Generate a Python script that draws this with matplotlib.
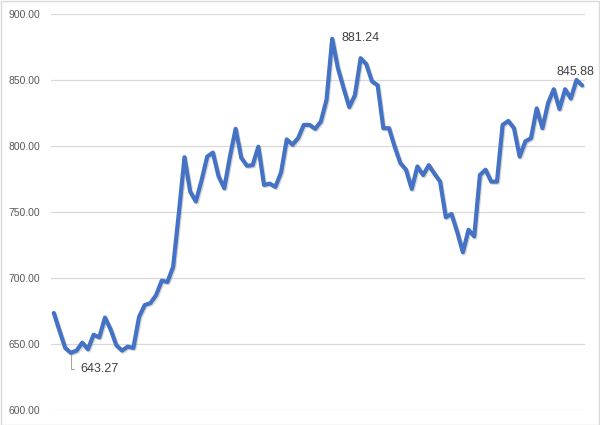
import matplotlib.pyplot as plt
import matplotlib.patheffects as pe
from matplotlib.patches import Rectangle
import numpy

# weekly closing values
values = [673.5, 660.0, 647.0, 643.27, 645.0, 651.0, 646.0, 657.0, 655.0, 670.0,
          661.0, 649.0, 645.0, 648.0, 647.0, 670.5, 679.5, 681.0, 687.0, 698.0,
          697.0, 708.5, 749.0, 791.5, 765.5, 758.0, 774.0, 792.0, 795.0, 777.0,
          768.0, 792.0, 813.0, 791.0, 785.0, 785.5, 799.5, 770.5, 771.5, 769.0,
          780.0, 805.0, 801.0, 806.0, 816.0, 816.0, 813.0, 818.5, 835.0, 881.24,
          859.0, 844.0, 829.5, 838.5, 866.5, 862.0, 849.0, 846.0, 813.5, 813.5,
          799.5, 787.0, 782.0, 767.5, 784.5, 778.0, 785.5, 779.0, 773.0, 746.0,
          748.5, 735.0, 719.5, 736.5, 731.5, 778.0, 782.0, 773.0, 773.0, 816.0,
          819.0, 813.5, 792.0, 803.5, 806.0, 828.5, 813.5, 832.5, 843.0, 828.0,
          843.0, 836.0, 850.0, 845.88]
yticks = [600, 650, 700, 750, 800, 850, 900]

x = numpy.arange(len(values))
i_min = int(numpy.argmin(values))
i_max = int(numpy.argmax(values))
i_last = len(values) - 1

fig = plt.figure(figsize=(6, 4.25), dpi=100)
ax = fig.add_axes([0.085, 0.0353, 0.89, 0.9317])

ax.plot(x, values, color='#4472C4', linewidth=3, solid_joinstyle='round',
        solid_capstyle='round', zorder=3,
        path_effects=[pe.SimpleLineShadow(offset=(0.8, -0.8), alpha=0.25, shadow_color='#555555'),
                      pe.Normal()])

ax.set_xlim(-0.5, len(values) - 0.5)
ax.set_ylim(600, 900)
ax.set_yticks(yticks)
ax.set_yticklabels(['%.2f' % v for v in yticks], fontsize=7.5, color='#595959',
                   family='Liberation Sans')
ax.set_xticks([])
ax.tick_params(axis='y', length=0, pad=8)
ax.grid(axis='y', color='#d9d9d9', linewidth=0.9)
ax.set_axisbelow(True)
for s in ax.spines.values():
    s.set_visible(False)

lab = dict(fontsize=9, color='#404040', family='Liberation Sans')
ax.annotate('%.2f' % values[i_min], xy=(i_min, values[i_min]), xytext=(6.5, -11.5),
            textcoords='offset points', ha='left', va='center',
            arrowprops=dict(arrowstyle='-', color='#a6a6a6', lw=0.8,
                            connectionstyle='angle,angleA=0,angleB=90,rad=0',
                            relpos=(0, 0.5), shrinkA=2, shrinkB=1.5), **lab)
ax.annotate('%.2f' % values[i_max], xy=(i_max, values[i_max]), xytext=(6.5, 0.5),
            textcoords='offset points', ha='left', va='center', **lab)
ax.annotate('%.2f' % values[i_last], xy=(i_last, values[i_last]), xytext=(-5, 10),
            textcoords='offset points', ha='center', va='center', **lab)

fig.patches.append(Rectangle((0.001, 0.001), 0.997, 0.997, transform=fig.transFigure,
                             fill=False, edgecolor='#d9d9d9', linewidth=1))

plt.savefig('out.png', dpi=100)
